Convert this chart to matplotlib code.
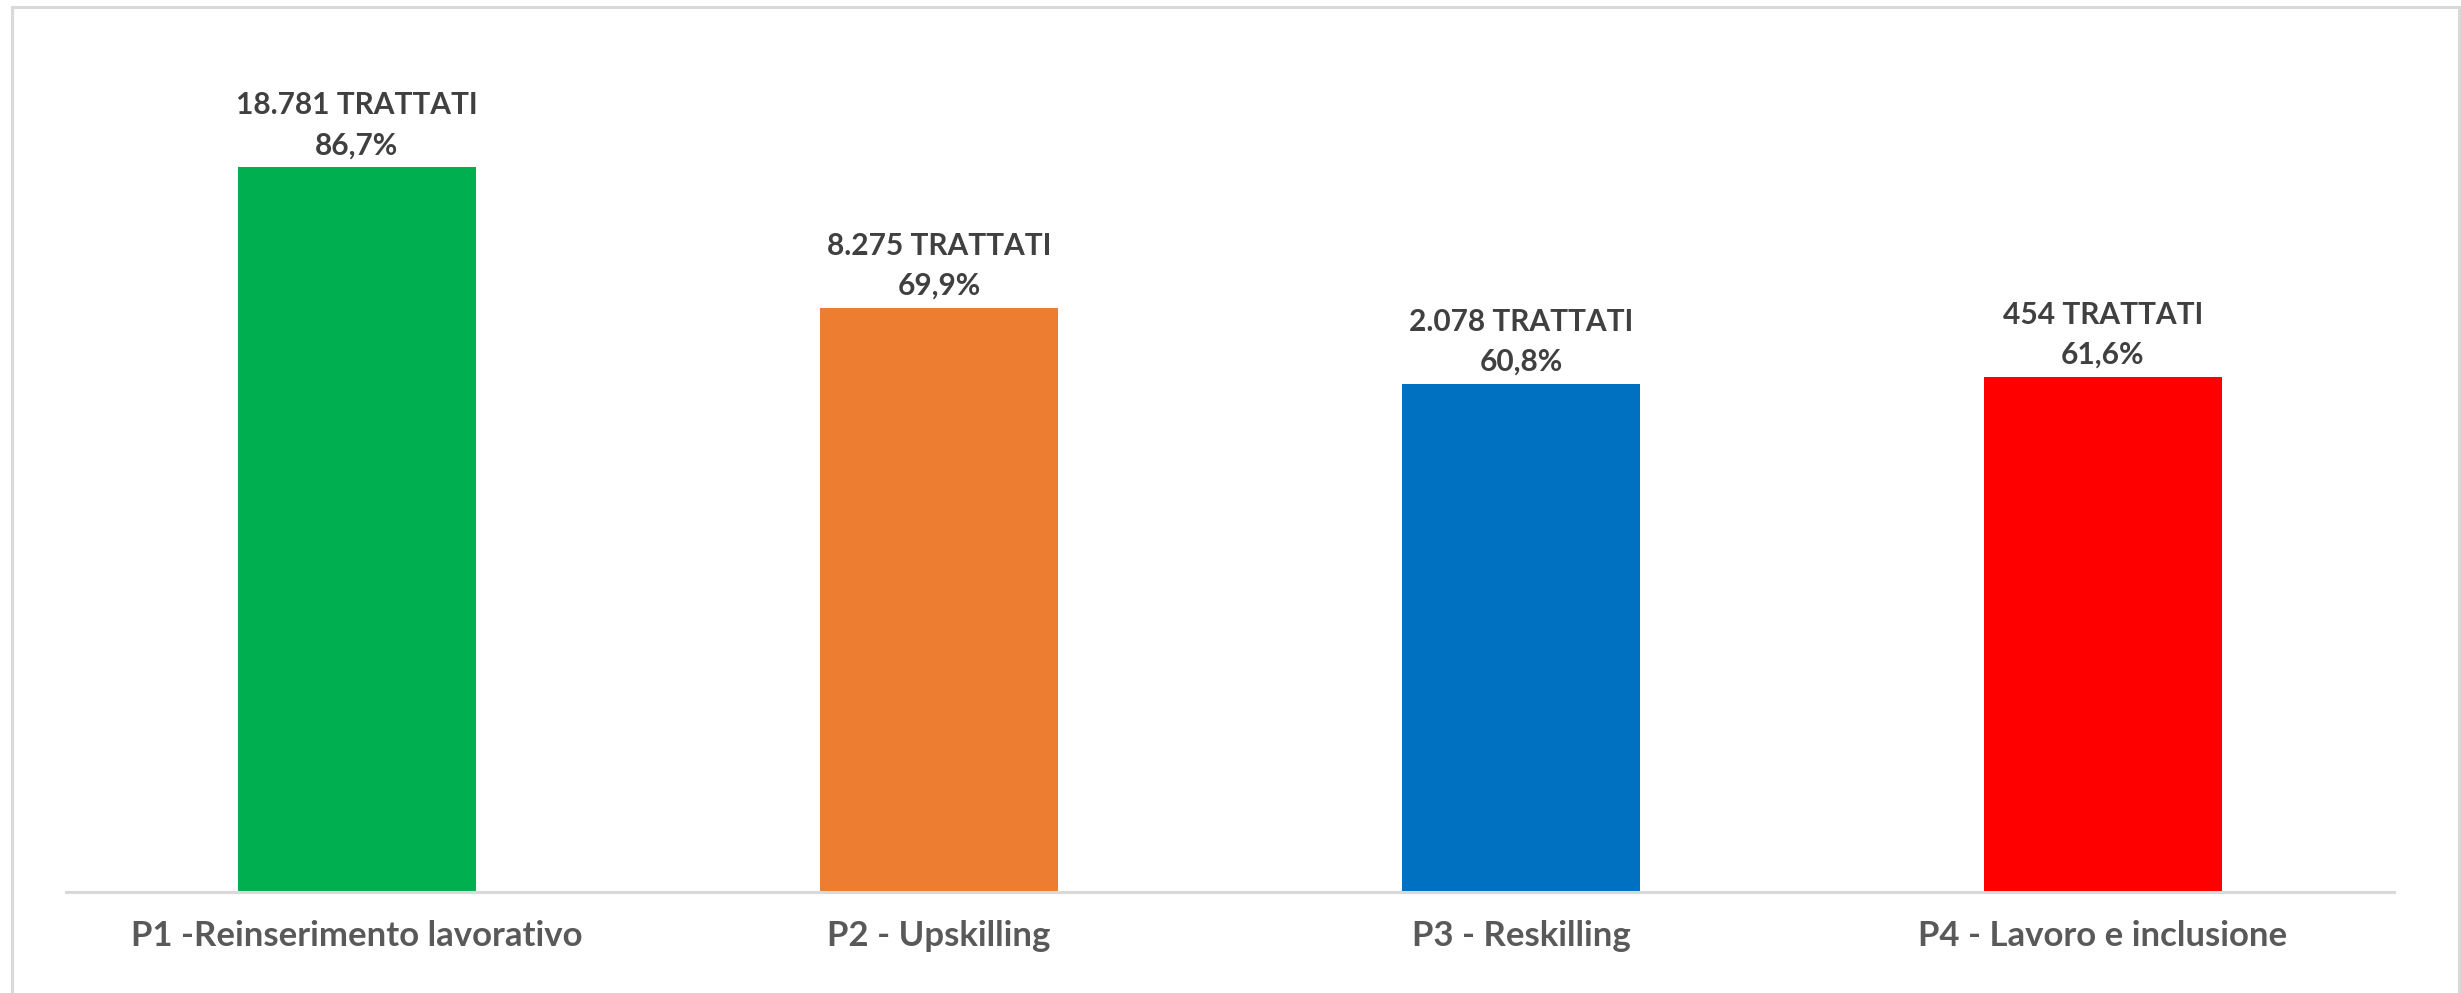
import matplotlib.pyplot as plt
from matplotlib.patches import Rectangle

categories = ["P1 -Reinserimento lavorativo", "P2 - Upskilling",
              "P3 - Reskilling", "P4 - Lavoro e inclusione"]
percentuali = [86.7, 69.9, 60.8, 61.6]
trattati = ["18.781", "8.275", "2.078", "454"]
colors = ["#00B050", "#ED7D31", "#0070C0", "#FF0000"]

W, H = 2461, 993
fig = plt.figure(figsize=(W / 100, H / 100), dpi=100)
ax = fig.add_axes([66 / W, (H - 892) / H, (2394 - 66) / W, (892 - 56) / H])

x = range(len(categories))
bars = ax.bar(x, percentuali, width=0.41, color=colors, zorder=2)
ax.set_xlim(-0.5, len(categories) - 0.5)
ax.set_ylim(0, 100)

# etichette sopra le barre
for b, n, p in zip(bars, trattati, percentuali):
    cx = b.get_x() + b.get_width() / 2
    ax.annotate("{} TRATTATI".format(n), (cx, p), xytext=(0, 44.6),
                textcoords="offset points", ha="center", va="center",
                fontsize=21.5, fontweight="bold", color="#404040",
                family="Lato")
    ax.annotate("{:.1f}%".format(p).replace(".", ","), (cx, p),
                xytext=(0, 15.8), textcoords="offset points",
                ha="center", va="center", fontsize=21.5,
                fontweight="bold", color="#404040", family="Lato")

ax.set_xticks(list(x))
ax.set_xticklabels(categories, fontsize=25, fontweight="bold",
                   color="#595959", family="Lato")
ax.tick_params(axis="x", length=0, pad=20)
ax.set_yticks([])
for s in ["top", "right", "left"]:
    ax.spines[s].set_visible(False)
ax.spines["bottom"].set_color("#d9d9d9")
ax.spines["bottom"].set_linewidth(2.2)

# cornice grigia
fig.patches.append(Rectangle((12 / W, -0.05), (2459 - 12) / W, 1.05 - 7 / H,
                             transform=fig.transFigure, fill=False,
                             edgecolor="#d9d9d9", linewidth=2.2))

fig.savefig("out.png", dpi=100)
